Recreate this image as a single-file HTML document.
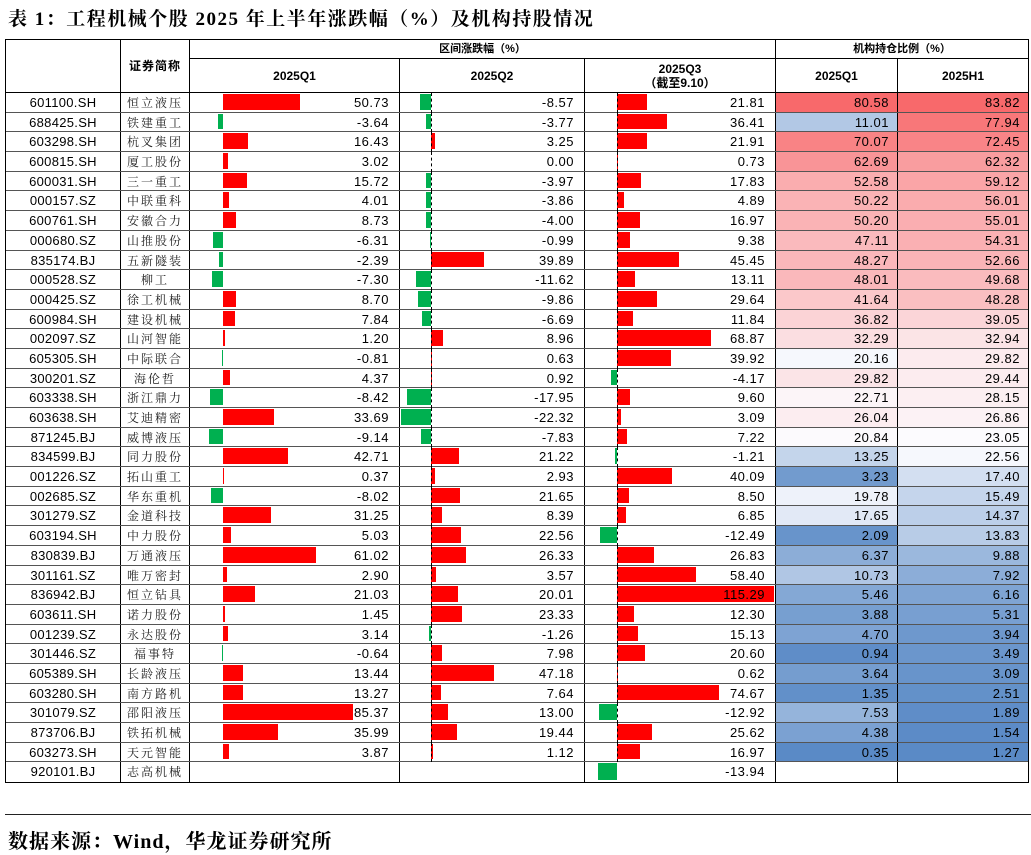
<!DOCTYPE html>
<html><head><meta charset="utf-8">
<style>
body{margin:0;width:1031px;height:855px;background:#fff;position:relative;overflow:hidden;font-family:"Liberation Sans","Noto Sans CJK SC",sans-serif;color:#000}
.title{position:absolute;left:8px;top:4px;font:bold 19px "Liberation Serif","Noto Serif CJK SC",serif;letter-spacing:1.5px;white-space:nowrap}
.foot{position:absolute;left:8px;top:825px;font:bold 20px "Liberation Serif","Noto Serif CJK SC",serif;letter-spacing:1px;white-space:nowrap}
.rule{position:absolute;left:5px;top:814px;width:1026px;height:0;border-top:1.5px solid #222}
.tb{position:absolute;left:5px;top:39px;width:1022px;border:1px solid #000}
.hd{position:relative;height:53px;border-bottom:1px solid #000;box-sizing:border-box}
.hd div{position:absolute;box-sizing:border-box;display:flex;align-items:center;justify-content:center;font-weight:bold;font-size:12px;text-align:center;line-height:14px}
.r{display:flex;height:19.7px;box-sizing:border-box;border-bottom:1px solid #555}
.r:last-child{border-bottom:none}
.c{box-sizing:border-box;border-right:1px solid #000;position:relative;height:100%;font-size:13px;line-height:19px;white-space:nowrap}
.c1{width:115px;text-align:center;letter-spacing:0.3px}
.c2{width:69px;text-align:center;font-family:"Noto Serif CJK SC",serif;font-size:12px;letter-spacing:2px;color:#222}
.q1{width:210px}.q2{width:185px}.q3{width:191px}
.h{width:122px}.h2{width:130px;border-right:none}
.c span{position:absolute;right:10px;top:0;letter-spacing:0.5px}
.h span,.h2 span{right:8px}
.c i{position:absolute;top:1px;bottom:2px;background:#f00}
.c i.g{background:#00b050}
.d::before{content:"";position:absolute;top:0;bottom:-1px;border-left:1px dashed #000;z-index:1}
.q2.d::before{left:31px}.q3.d::before{left:32px}
</style></head><body>
<div class="title">表 1：工程机械个股 2025 年上半年涨跌幅（%）及机构持股情况</div>
<div class="tb">
<div class="hd">
<div style="left:0;top:0;width:115px;height:52px;border-right:1px solid #000"></div>
<div style="left:115px;top:0;width:69px;height:52px;border-right:1px solid #000;letter-spacing:1px">证券简称</div>
<div style="left:184px;top:0;width:586px;height:19px;border-right:1px solid #000;border-bottom:1px solid #000;font-size:11px">区间涨跌幅（%）</div>
<div style="left:770px;top:0;width:252px;height:19px;border-bottom:1px solid #000;font-size:11px">机构持仓比例（%）</div>
<div style="left:184px;top:19px;width:210px;height:33px;border-right:1px solid #000">2025Q1</div>
<div style="left:394px;top:19px;width:185px;height:33px;border-right:1px solid #000">2025Q2</div>
<div style="left:579px;top:19px;width:191px;height:33px;border-right:1px solid #000">2025Q3<br>（截至9.10）</div>
<div style="left:770px;top:19px;width:122px;height:33px;border-right:1px solid #000">2025Q1</div>
<div style="left:892px;top:19px;width:130px;height:33px">2025H1</div>
</div>

<div class="r"><div class="c c1">601100.SH</div><div class="c c2">恒立液压</div><div class="c q1"><i style="left:33px;width:77px"></i><span>50.73</span></div><div class="c q2 d"><i class="g" style="left:19.6px;width:11.4px"></i><span>-8.57</span></div><div class="c q3 d"><i style="left:32px;width:29.7px"></i><span>21.81</span></div><div class="c h" style="background:rgb(248,105,107)"><span>80.58</span></div><div class="c h2" style="background:rgb(248,105,107)"><span>83.82</span></div></div>
<div class="r"><div class="c c1">688425.SH</div><div class="c c2">铁建重工</div><div class="c q1"><i class="g" style="left:27.5px;width:5.5px"></i><span>-3.64</span></div><div class="c q2 d"><i class="g" style="left:26px;width:5px"></i><span>-3.77</span></div><div class="c q3 d"><i style="left:32px;width:49.5px"></i><span>36.41</span></div><div class="c h" style="background:rgb(178,200,229)"><span>11.01</span></div><div class="c h2" style="background:rgb(248,119,121)"><span>77.94</span></div></div>
<div class="r"><div class="c c1">603298.SH</div><div class="c c2">杭叉集团</div><div class="c q1"><i style="left:33px;width:25px"></i><span>16.43</span></div><div class="c q2 d"><i style="left:31px;width:4.3px"></i><span>3.25</span></div><div class="c q3 d"><i style="left:32px;width:29.8px"></i><span>21.91</span></div><div class="c h" style="background:rgb(249,131,133)"><span>70.07</span></div><div class="c h2" style="background:rgb(249,132,135)"><span>72.45</span></div></div>
<div class="r"><div class="c c1">600815.SH</div><div class="c c2">厦工股份</div><div class="c q1"><i style="left:33px;width:4.6px"></i><span>3.02</span></div><div class="c q2 d"><span>0.00</span></div><div class="c q3 d"><i style="left:32px;width:1px"></i><span>0.73</span></div><div class="c h" style="background:rgb(249,148,151)"><span>62.69</span></div><div class="c h2" style="background:rgb(249,157,159)"><span>62.32</span></div></div>
<div class="r"><div class="c c1">600031.SH</div><div class="c c2">三一重工</div><div class="c q1"><i style="left:33px;width:23.9px"></i><span>15.72</span></div><div class="c q2 d"><i class="g" style="left:25.7px;width:5.3px"></i><span>-3.97</span></div><div class="c q3 d"><i style="left:32px;width:24.2px"></i><span>17.83</span></div><div class="c h" style="background:rgb(250,173,175)"><span>52.58</span></div><div class="c h2" style="background:rgb(250,165,167)"><span>59.12</span></div></div>
<div class="r"><div class="c c1">000157.SZ</div><div class="c c2">中联重科</div><div class="c q1"><i style="left:33px;width:6.1px"></i><span>4.01</span></div><div class="c q2 d"><i class="g" style="left:25.9px;width:5.1px"></i><span>-3.86</span></div><div class="c q3 d"><i style="left:32px;width:6.7px"></i><span>4.89</span></div><div class="c h" style="background:rgb(250,179,181)"><span>50.22</span></div><div class="c h2" style="background:rgb(250,172,174)"><span>56.01</span></div></div>
<div class="r"><div class="c c1">600761.SH</div><div class="c c2">安徽合力</div><div class="c q1"><i style="left:33px;width:13.3px"></i><span>8.73</span></div><div class="c q2 d"><i class="g" style="left:25.7px;width:5.3px"></i><span>-4.00</span></div><div class="c q3 d"><i style="left:32px;width:23.1px"></i><span>16.97</span></div><div class="c h" style="background:rgb(250,179,181)"><span>50.20</span></div><div class="c h2" style="background:rgb(250,174,177)"><span>55.01</span></div></div>
<div class="r"><div class="c c1">000680.SZ</div><div class="c c2">山推股份</div><div class="c q1"><i class="g" style="left:23.4px;width:9.6px"></i><span>-6.31</span></div><div class="c q2 d"><i class="g" style="left:29.7px;width:1.3px"></i><span>-0.99</span></div><div class="c q3 d"><i style="left:32px;width:12.8px"></i><span>9.38</span></div><div class="c h" style="background:rgb(250,186,189)"><span>47.11</span></div><div class="c h2" style="background:rgb(250,176,179)"><span>54.31</span></div></div>
<div class="r"><div class="c c1">835174.BJ</div><div class="c c2">五新隧装</div><div class="c q1"><i class="g" style="left:29.4px;width:3.6px"></i><span>-2.39</span></div><div class="c q2 d"><i style="left:31px;width:53.1px"></i><span>39.89</span></div><div class="c q3 d"><i style="left:32px;width:61.8px"></i><span>45.45</span></div><div class="c h" style="background:rgb(250,183,186)"><span>48.27</span></div><div class="c h2" style="background:rgb(250,180,183)"><span>52.66</span></div></div>
<div class="r"><div class="c c1">000528.SZ</div><div class="c c2">柳工</div><div class="c q1"><i class="g" style="left:21.9px;width:11.1px"></i><span>-7.30</span></div><div class="c q2 d"><i class="g" style="left:15.5px;width:15.5px"></i><span>-11.62</span></div><div class="c q3 d"><i style="left:32px;width:17.8px"></i><span>13.11</span></div><div class="c h" style="background:rgb(250,184,187)"><span>48.01</span></div><div class="c h2" style="background:rgb(250,187,190)"><span>49.68</span></div></div>
<div class="r"><div class="c c1">000425.SZ</div><div class="c c2">徐工机械</div><div class="c q1"><i style="left:33px;width:13.2px"></i><span>8.70</span></div><div class="c q2 d"><i class="g" style="left:17.9px;width:13.1px"></i><span>-9.86</span></div><div class="c q3 d"><i style="left:32px;width:40.3px"></i><span>29.64</span></div><div class="c h" style="background:rgb(251,200,202)"><span>41.64</span></div><div class="c h2" style="background:rgb(250,191,193)"><span>48.28</span></div></div>
<div class="r"><div class="c c1">600984.SH</div><div class="c c2">建设机械</div><div class="c q1"><i style="left:33px;width:11.9px"></i><span>7.84</span></div><div class="c q2 d"><i class="g" style="left:22.1px;width:8.9px"></i><span>-6.69</span></div><div class="c q3 d"><i style="left:32px;width:16.1px"></i><span>11.84</span></div><div class="c h" style="background:rgb(251,211,214)"><span>36.82</span></div><div class="c h2" style="background:rgb(251,213,216)"><span>39.05</span></div></div>
<div class="r"><div class="c c1">002097.SZ</div><div class="c c2">山河智能</div><div class="c q1"><i style="left:33px;width:1.8px"></i><span>1.20</span></div><div class="c q2 d"><i style="left:31px;width:11.9px"></i><span>8.96</span></div><div class="c q3 d"><i style="left:32px;width:93.7px"></i><span>68.87</span></div><div class="c h" style="background:rgb(251,222,225)"><span>32.29</span></div><div class="c h2" style="background:rgb(251,228,230)"><span>32.94</span></div></div>
<div class="r"><div class="c c1">605305.SH</div><div class="c c2">中际联合</div><div class="c q1"><i class="g" style="left:31.8px;width:1.2px"></i><span>-0.81</span></div><div class="c q2 d"><i style="left:31px;width:0.8px"></i><span>0.63</span></div><div class="c q3 d"><i style="left:32px;width:54.3px"></i><span>39.92</span></div><div class="c h" style="background:rgb(246,248,253)"><span>20.16</span></div><div class="c h2" style="background:rgb(252,235,238)"><span>29.82</span></div></div>
<div class="r"><div class="c c1">300201.SZ</div><div class="c c2">海伦哲</div><div class="c q1"><i style="left:33px;width:6.6px"></i><span>4.37</span></div><div class="c q2 d"><i style="left:31px;width:1.2px"></i><span>0.92</span></div><div class="c q3 d"><i class="g" style="left:26.3px;width:5.7px"></i><span>-4.17</span></div><div class="c h" style="background:rgb(251,228,231)"><span>29.82</span></div><div class="c h2" style="background:rgb(252,236,239)"><span>29.44</span></div></div>
<div class="r"><div class="c c1">603338.SH</div><div class="c c2">浙江鼎力</div><div class="c q1"><i class="g" style="left:20.2px;width:12.8px"></i><span>-8.42</span></div><div class="c q2 d"><i class="g" style="left:7.1px;width:23.9px"></i><span>-17.95</span></div><div class="c q3 d"><i style="left:32px;width:13.1px"></i><span>9.60</span></div><div class="c h" style="background:rgb(252,245,248)"><span>22.71</span></div><div class="c h2" style="background:rgb(252,239,242)"><span>28.15</span></div></div>
<div class="r"><div class="c c1">603638.SH</div><div class="c c2">艾迪精密</div><div class="c q1"><i style="left:33px;width:51.2px"></i><span>33.69</span></div><div class="c q2 d"><i class="g" style="left:1.3px;width:29.7px"></i><span>-22.32</span></div><div class="c q3 d"><i style="left:32px;width:4.2px"></i><span>3.09</span></div><div class="c h" style="background:rgb(252,237,240)"><span>26.04</span></div><div class="c h2" style="background:rgb(252,242,245)"><span>26.86</span></div></div>
<div class="r"><div class="c c1">871245.BJ</div><div class="c c2">威博液压</div><div class="c q1"><i class="g" style="left:19.1px;width:13.9px"></i><span>-9.14</span></div><div class="c q2 d"><i class="g" style="left:20.6px;width:10.4px"></i><span>-7.83</span></div><div class="c q3 d"><i style="left:32px;width:9.8px"></i><span>7.22</span></div><div class="c h" style="background:rgb(252,250,253)"><span>20.84</span></div><div class="c h2" style="background:rgb(252,251,254)"><span>23.05</span></div></div>
<div class="r"><div class="c c1">834599.BJ</div><div class="c c2">同力股份</div><div class="c q1"><i style="left:33px;width:64.9px"></i><span>42.71</span></div><div class="c q2 d"><i style="left:31px;width:28.2px"></i><span>21.22</span></div><div class="c q3 d"><i class="g" style="left:30.4px;width:1.6px"></i><span>-1.21</span></div><div class="c h" style="background:rgb(196,213,235)"><span>13.25</span></div><div class="c h2" style="background:rgb(246,248,253)"><span>22.56</span></div></div>
<div class="r"><div class="c c1">001226.SZ</div><div class="c c2">拓山重工</div><div class="c q1"><i style="left:33px;width:0.6px"></i><span>0.37</span></div><div class="c q2 d"><i style="left:31px;width:3.9px"></i><span>2.93</span></div><div class="c q3 d"><i style="left:32px;width:54.5px"></i><span>40.09</span></div><div class="c h" style="background:rgb(114,155,206)"><span>3.23</span></div><div class="c h2" style="background:rgb(211,223,241)"><span>17.40</span></div></div>
<div class="r"><div class="c c1">002685.SZ</div><div class="c c2">华东重机</div><div class="c q1"><i class="g" style="left:20.8px;width:12.2px"></i><span>-8.02</span></div><div class="c q2 d"><i style="left:31px;width:28.8px"></i><span>21.65</span></div><div class="c q3 d"><i style="left:32px;width:11.6px"></i><span>8.50</span></div><div class="c h" style="background:rgb(238,242,250)"><span>19.78</span></div><div class="c h2" style="background:rgb(197,213,236)"><span>15.49</span></div></div>
<div class="r"><div class="c c1">301279.SZ</div><div class="c c2">金道科技</div><div class="c q1"><i style="left:33px;width:47.5px"></i><span>31.25</span></div><div class="c q2 d"><i style="left:31px;width:11.2px"></i><span>8.39</span></div><div class="c q3 d"><i style="left:32px;width:9.3px"></i><span>6.85</span></div><div class="c h" style="background:rgb(226,233,246)"><span>17.65</span></div><div class="c h2" style="background:rgb(188,207,233)"><span>14.37</span></div></div>
<div class="r"><div class="c c1">603194.SH</div><div class="c c2">中力股份</div><div class="c q1"><i style="left:33px;width:7.6px"></i><span>5.03</span></div><div class="c q2 d"><i style="left:31px;width:30px"></i><span>22.56</span></div><div class="c q3 d"><i class="g" style="left:15px;width:17px"></i><span>-12.49</span></div><div class="c h" style="background:rgb(104,148,203)"><span>2.09</span></div><div class="c h2" style="background:rgb(184,204,231)"><span>13.83</span></div></div>
<div class="r"><div class="c c1">830839.BJ</div><div class="c c2">万通液压</div><div class="c q1"><i style="left:33px;width:92.8px"></i><span>61.02</span></div><div class="c q2 d"><i style="left:31px;width:35px"></i><span>26.33</span></div><div class="c q3 d"><i style="left:32px;width:36.5px"></i><span>26.83</span></div><div class="c h" style="background:rgb(140,173,215)"><span>6.37</span></div><div class="c h2" style="background:rgb(155,184,221)"><span>9.88</span></div></div>
<div class="r"><div class="c c1">301161.SZ</div><div class="c c2">唯万密封</div><div class="c q1"><i style="left:33px;width:4.4px"></i><span>2.90</span></div><div class="c q2 d"><i style="left:31px;width:4.7px"></i><span>3.57</span></div><div class="c q3 d"><i style="left:32px;width:79.4px"></i><span>58.40</span></div><div class="c h" style="background:rgb(176,198,228)"><span>10.73</span></div><div class="c h2" style="background:rgb(140,173,216)"><span>7.92</span></div></div>
<div class="r"><div class="c c1">836942.BJ</div><div class="c c2">恒立钻具</div><div class="c q1"><i style="left:33px;width:32px"></i><span>21.03</span></div><div class="c q2 d"><i style="left:31px;width:26.6px"></i><span>20.01</span></div><div class="c q3 d"><i style="left:32px;width:157px"></i><span>115.29</span></div><div class="c h" style="background:rgb(132,168,213)"><span>5.46</span></div><div class="c h2" style="background:rgb(127,164,211)"><span>6.16</span></div></div>
<div class="r"><div class="c c1">603611.SH</div><div class="c c2">诺力股份</div><div class="c q1"><i style="left:33px;width:2.2px"></i><span>1.45</span></div><div class="c q2 d"><i style="left:31px;width:31px"></i><span>23.33</span></div><div class="c q3 d"><i style="left:32px;width:16.7px"></i><span>12.30</span></div><div class="c h" style="background:rgb(119,159,208)"><span>3.88</span></div><div class="c h2" style="background:rgb(120,159,209)"><span>5.31</span></div></div>
<div class="r"><div class="c c1">001239.SZ</div><div class="c c2">永达股份</div><div class="c q1"><i style="left:33px;width:4.8px"></i><span>3.14</span></div><div class="c q2 d"><i class="g" style="left:29.3px;width:1.7px"></i><span>-1.26</span></div><div class="c q3 d"><i style="left:32px;width:20.6px"></i><span>15.13</span></div><div class="c h" style="background:rgb(126,163,211)"><span>4.70</span></div><div class="c h2" style="background:rgb(110,152,205)"><span>3.94</span></div></div>
<div class="r"><div class="c c1">301446.SZ</div><div class="c c2">福事特</div><div class="c q1"><i class="g" style="left:32px;width:1px"></i><span>-0.64</span></div><div class="c q2 d"><i style="left:31px;width:10.6px"></i><span>7.98</span></div><div class="c q3 d"><i style="left:32px;width:28px"></i><span>20.60</span></div><div class="c h" style="background:rgb(95,141,200)"><span>0.94</span></div><div class="c h2" style="background:rgb(107,150,204)"><span>3.49</span></div></div>
<div class="r"><div class="c c1">605389.SH</div><div class="c c2">长龄液压</div><div class="c q1"><i style="left:33px;width:20.4px"></i><span>13.44</span></div><div class="c q2 d"><i style="left:31px;width:62.7px"></i><span>47.18</span></div><div class="c q3 d"><i style="left:32px;width:0.8px"></i><span>0.62</span></div><div class="c h" style="background:rgb(117,157,207)"><span>3.64</span></div><div class="c h2" style="background:rgb(104,148,203)"><span>3.09</span></div></div>
<div class="r"><div class="c c1">603280.SH</div><div class="c c2">南方路机</div><div class="c q1"><i style="left:33px;width:20.2px"></i><span>13.27</span></div><div class="c q2 d"><i style="left:31px;width:10.2px"></i><span>7.64</span></div><div class="c q3 d"><i style="left:32px;width:101.6px"></i><span>74.67</span></div><div class="c h" style="background:rgb(98,144,201)"><span>1.35</span></div><div class="c h2" style="background:rgb(99,145,201)"><span>2.51</span></div></div>
<div class="r"><div class="c c1">301079.SZ</div><div class="c c2">邵阳液压</div><div class="c q1"><i style="left:33px;width:129.8px"></i><span>85.37</span></div><div class="c q2 d"><i style="left:31px;width:17.3px"></i><span>13.00</span></div><div class="c q3 d"><i class="g" style="left:14.4px;width:17.6px"></i><span>-12.92</span></div><div class="c h" style="background:rgb(149,180,219)"><span>7.53</span></div><div class="c h2" style="background:rgb(95,141,200)"><span>1.89</span></div></div>
<div class="r"><div class="c c1">873706.BJ</div><div class="c c2">铁拓机械</div><div class="c q1"><i style="left:33px;width:54.7px"></i><span>35.99</span></div><div class="c q2 d"><i style="left:31px;width:25.9px"></i><span>19.44</span></div><div class="c q3 d"><i style="left:32px;width:34.8px"></i><span>25.62</span></div><div class="c h" style="background:rgb(123,161,210)"><span>4.38</span></div><div class="c h2" style="background:rgb(92,139,199)"><span>1.54</span></div></div>
<div class="r"><div class="c c1">603273.SH</div><div class="c c2">天元智能</div><div class="c q1"><i style="left:33px;width:5.9px"></i><span>3.87</span></div><div class="c q2 d"><i style="left:31px;width:1.5px"></i><span>1.12</span></div><div class="c q3 d"><i style="left:32px;width:23.1px"></i><span>16.97</span></div><div class="c h" style="background:rgb(90,138,198)"><span>0.35</span></div><div class="c h2" style="background:rgb(90,138,198)"><span>1.27</span></div></div>
<div class="r"><div class="c c1">920101.BJ</div><div class="c c2">志高机械</div><div class="c q1"></div><div class="c q2"></div><div class="c q3"><i class="g" style="left:13px;width:19px"></i><span>-13.94</span></div><div class="c h"></div><div class="c h2"></div></div>
</div>
<div class="rule"></div>
<div class="foot">数据来源：Wind，华龙证券研究所</div>
</body></html>
